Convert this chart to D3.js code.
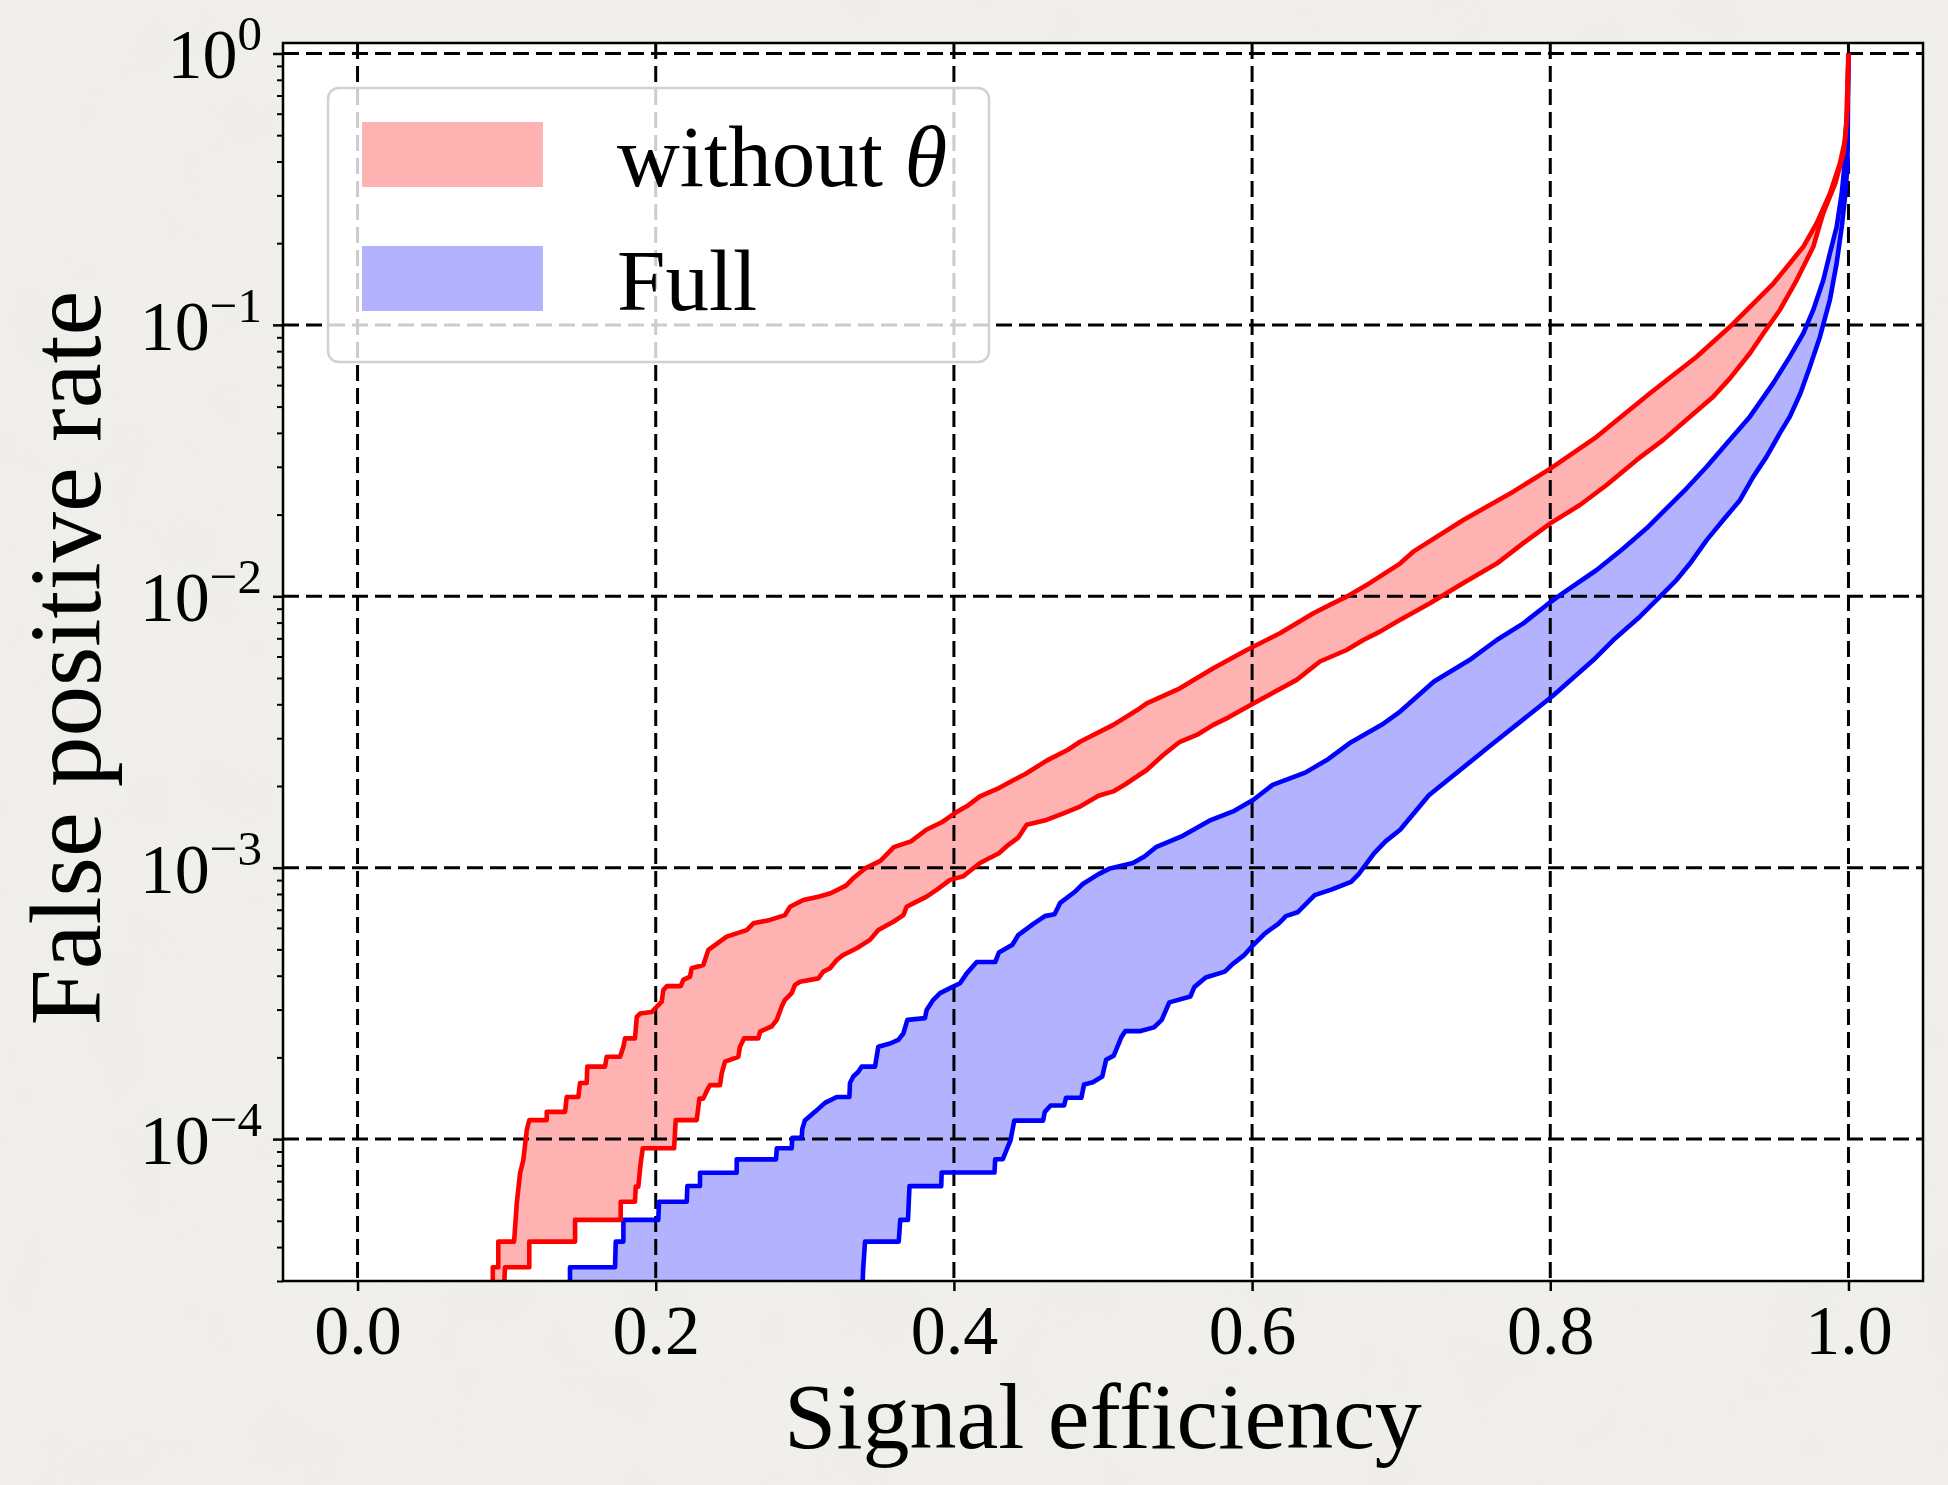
<!DOCTYPE html>
<html>
<head>
<meta charset="utf-8">
<script src="https://cdn.jsdelivr.net/npm/d3@7"></script>
<style>
  body { margin: 0; background: #efeee9; }
  svg { display: block; }
</style>
</head>
<body>
<div class="visualization"></div>
<script>
const canvaswidth = 1948;
const canvasheight = 1485;
const plotleft = 283;
const plotright = 1923;
const plottop = 43;
const plotbottom = 1281;
const serif = "'Liberation Serif', 'DejaVu Serif', serif";

// tick values
var xTicks = [0.0, 0.2, 0.4, 0.6, 0.8, 1.0];
var yTicks = [1e-4, 1e-3, 1e-2, 1e-1, 1e0];

// legend
var legendLabels = ["without ", "Full"];
var legendColors = ["red", "blue"];

// "without theta" band: upper edge (higher false positive rate)
var woThetaHiEff = [0.0907,0.0907,0.0944,0.0944,0.1050,0.1068,0.1090,0.1112,0.1135,0.1152,0.1269,0.1269,0.1392,0.1403,0.1481,0.1492,0.1537,0.1541,0.1660,0.1671,0.1761,0.1783,0.1794,0.1861,0.1873,0.1895,0.1973,0.2040,0.2051,0.2074,0.2168,0.2185,0.2230,0.2241,0.2319,0.2353,0.2476,0.2610,0.2655,0.2767,0.2867,0.2901,0.2990,0.3091,0.3173,0.3276,0.3327,0.3404,0.3507,0.3597,0.3712,0.3815,0.3918,0.4007,0.4097,0.4175,0.4290,0.4398,0.4482,0.4622,0.4765,0.4846,0.4918,0.5069,0.5227,0.5293,0.5516,0.5740,0.5964,0.6187,0.6411,0.6522,0.6634,0.6791,0.6992,0.7081,0.7417,0.7752,0.8003,0.8311,0.8669,0.8982,0.9227,0.9496,0.9697,0.9787,0.9876,0.9943,0.9977,0.9993,1.0];
var woThetaHiFpr = [2.5e-5,3.37e-5,3.37e-5,4.19e-5,4.19e-5,5.80e-5,7.48e-5,8.37e-5,1.08e-4,1.175e-4,1.175e-4,1.26e-4,1.26e-4,1.43e-4,1.43e-4,1.61e-4,1.61e-4,1.85e-4,1.85e-4,2.01e-4,2.01e-4,2.19e-4,2.35e-4,2.35e-4,2.82e-4,2.90e-4,2.94e-4,3.21e-4,3.54e-4,3.66e-4,3.66e-4,3.86e-4,3.97e-4,4.26e-4,4.38e-4,4.98e-4,5.57e-4,5.89e-4,6.24e-4,6.42e-4,6.69e-4,7.18e-4,7.60e-4,7.82e-4,8.05e-4,8.59e-4,9.17e-4,9.94e-4,1.06e-3,1.19e-3,1.25e-3,1.38e-3,1.47e-3,1.59e-3,1.70e-3,1.83e-3,1.95e-3,2.10e-3,2.22e-3,2.48e-3,2.72e-3,2.91e-3,3.05e-3,3.36e-3,3.80e-3,4.03e-3,4.58e-3,5.43e-3,6.34e-3,7.31e-3,8.66e-3,9.3e-3,9.97e-3,1.12e-2,1.32e-2,1.46e-2,1.91e-2,2.43e-2,2.96e-2,3.87e-2,5.60e-2,7.63e-2,0.101,0.142,0.194,0.237,0.305,0.394,0.48,0.62,1.0];

// "without theta" band: lower edge
var woThetaLoEff = [0.0978,0.0989,0.1152,0.1152,0.1459,0.1459,0.1765,0.1765,0.1861,0.1866,0.1883,0.1899,0.1913,0.2123,0.2134,0.2275,0.2293,0.2319,0.2346,0.2364,0.2431,0.2443,0.2465,0.2554,0.2565,0.2592,0.2688,0.2700,0.2778,0.2812,0.2845,0.2867,0.2912,0.2934,0.2968,0.3091,0.3124,0.3169,0.3214,0.3258,0.3348,0.3437,0.3493,0.3594,0.3661,0.3683,0.3750,0.3817,0.3884,0.3974,0.4063,0.4175,0.4302,0.4354,0.4431,0.4488,0.4622,0.4739,0.4846,0.4970,0.5069,0.5150,0.5293,0.5404,0.5516,0.5637,0.5740,0.5843,0.6008,0.6299,0.6455,0.6634,0.6746,0.6858,0.6970,0.7193,0.7417,0.7641,0.7819,0.8003,0.8199,0.8378,0.8580,0.8758,0.8937,0.9093,0.9205,0.9339,0.9429,0.9540,0.9652,0.9764,0.9831,0.9912,0.9968,0.9985,1.0];
var woThetaLoFpr = [2.5e-5,3.37e-5,3.37e-5,4.19e-5,4.19e-5,5.04e-5,5.04e-5,5.88e-5,5.88e-5,6.68e-5,6.68e-5,8.14e-5,9.25e-5,9.25e-5,1.175e-4,1.175e-4,1.41e-4,1.41e-4,1.52e-4,1.58e-4,1.58e-4,1.75e-4,1.93e-4,2.01e-4,2.19e-4,2.35e-4,2.35e-4,2.49e-4,2.60e-4,2.75e-4,3.08e-4,3.26e-4,3.45e-4,3.70e-4,3.80e-4,3.91e-4,4.14e-4,4.26e-4,4.57e-4,4.77e-4,5.05e-4,5.42e-4,5.89e-4,6.32e-4,6.69e-4,7.18e-4,7.50e-4,7.82e-4,8.28e-4,9.02e-4,9.3e-4,1.04e-3,1.13e-3,1.20e-3,1.29e-3,1.44e-3,1.50e-3,1.59e-3,1.68e-3,1.84e-3,1.91e-3,2.03e-3,2.29e-3,2.60e-3,2.91e-3,3.10e-3,3.36e-3,3.58e-3,4.03e-3,4.92e-3,5.75e-3,6.34e-3,6.90e-3,7.41e-3,8.06e-3,9.42e-3,1.12e-2,1.32e-2,1.57e-2,1.86e-2,2.17e-2,2.57e-2,3.18e-2,3.77e-2,4.59e-2,5.44e-2,6.35e-2,7.86e-2,9.30e-2,0.1135,0.146,0.194,0.258,0.333,0.429,0.55,1.0];

// "Full" band: upper edge
var fullHiEff = [0.1425,0.1425,0.1727,0.1732,0.1783,0.1783,0.2017,0.2022,0.2208,0.2212,0.2297,0.2297,0.2543,0.2543,0.2807,0.2812,0.2912,0.2916,0.2979,0.2983,0.3000,0.3068,0.3135,0.3214,0.3299,0.3303,0.3325,0.3359,0.3382,0.3471,0.3493,0.3571,0.3627,0.3661,0.3688,0.3806,0.3817,0.3862,0.3907,0.3974,0.4041,0.4086,0.4153,0.4277,0.4302,0.4392,0.4431,0.4533,0.4610,0.4675,0.4713,0.4816,0.4867,0.4970,0.5047,0.5201,0.5278,0.5355,0.5535,0.5714,0.5881,0.6009,0.6138,0.6356,0.6510,0.6664,0.6869,0.6993,0.7220,0.7458,0.7641,0.7819,0.7976,0.8087,0.8311,0.8490,0.8646,0.8758,0.8915,0.9049,0.9205,0.9339,0.9496,0.9607,0.9697,0.9764,0.9831,0.9876,0.9921,0.9955,0.9977,0.9992,1.0];
var fullHiFpr = [2.5e-5,3.37e-5,3.37e-5,4.19e-5,4.19e-5,5.04e-5,5.04e-5,5.88e-5,5.88e-5,6.72e-5,6.72e-5,7.52e-5,7.52e-5,8.42e-5,8.42e-5,9.25e-5,9.25e-5,1.01e-4,1.01e-4,1.09e-4,1.17e-4,1.26e-4,1.36e-4,1.43e-4,1.43e-4,1.61e-4,1.70e-4,1.77e-4,1.85e-4,1.85e-4,2.19e-4,2.25e-4,2.32e-4,2.45e-4,2.75e-4,2.79e-4,2.99e-4,3.26e-4,3.45e-4,3.60e-4,3.75e-4,4.08e-4,4.49e-4,4.49e-4,4.87e-4,5.20e-4,5.64e-4,6.21e-4,6.63e-4,6.74e-4,7.42e-4,8.19e-4,8.73e-4,9.47e-4,9.94e-4,1.04e-3,1.10e-3,1.19e-3,1.31e-3,1.49e-3,1.62e-3,1.78e-3,2.02e-3,2.24e-3,2.51e-3,2.90e-3,3.36e-3,3.76e-3,4.85e-3,5.82e-3,6.90e-3,7.95e-3,9.29e-3,1.03e-2,1.25e-2,1.50e-2,1.78e-2,2.05e-2,2.50e-2,3.00e-2,3.77e-2,4.59e-2,6.10e-2,7.64e-2,9.30e-2,0.1135,0.146,0.184,0.230,0.305,0.405,0.55,1.0];

// "Full" band: lower edge
var fullLoEff = [0.3382,0.3392,0.3404,0.3630,0.3640,0.3692,0.3702,0.3915,0.3918,0.4272,0.4277,0.4328,0.4354,0.4380,0.4405,0.4598,0.4610,0.4649,0.4739,0.4752,0.4855,0.4873,0.4932,0.4995,0.5021,0.5072,0.5124,0.5150,0.5252,0.5342,0.5394,0.5445,0.5586,0.5612,0.5689,0.5817,0.5869,0.5945,0.6009,0.6087,0.6176,0.6227,0.6305,0.6420,0.6536,0.6664,0.6715,0.6818,0.6895,0.6993,0.7186,0.7603,0.8018,0.8289,0.8423,0.8601,0.8736,0.8848,0.8937,0.9049,0.9160,0.9272,0.9362,0.9451,0.9540,0.9607,0.9678,0.9742,0.9809,0.9876,0.9921,0.9955,0.9977,0.9993,1.0];
var fullLoFpr = [2.5e-5,3.37e-5,4.19e-5,4.19e-5,5.04e-5,5.04e-5,6.71e-5,6.71e-5,7.53e-5,7.53e-5,8.43e-5,8.43e-5,9.14e-5,9.92e-5,1.17e-4,1.17e-4,1.26e-4,1.33e-4,1.33e-4,1.42e-4,1.42e-4,1.59e-4,1.62e-4,1.70e-4,1.96e-4,2.03e-4,2.38e-4,2.50e-4,2.50e-4,2.58e-4,2.75e-4,3.19e-4,3.35e-4,3.63e-4,3.94e-4,4.14e-4,4.41e-4,4.75e-4,5.20e-4,5.73e-4,6.21e-4,6.63e-4,6.85e-4,7.92e-4,8.32e-4,8.87e-4,9.47e-4,1.13e-3,1.25e-3,1.38e-3,1.85e-3,2.83e-3,4.3e-3,5.82e-3,6.90e-3,8.41e-3,9.97e-3,1.15e-2,1.32e-2,1.61e-2,1.91e-2,2.26e-2,2.76e-2,3.27e-2,3.99e-2,4.59e-2,5.60e-2,7.02e-2,9.05e-2,0.124,0.169,0.230,0.297,0.383,1.0];


var svgCanvas = d3.select(".visualization").
append("svg").
attr("width", canvaswidth).
attr("height", canvasheight);

// paper-ish background
var defs = svgCanvas.append("defs");
var noise = defs.append("filter").attr("id", "paper").
attr("x", 0).attr("y", 0).attr("width", "100%").attr("height", "100%");
noise.append("feTurbulence").attr("type", "fractalNoise").
attr("baseFrequency", 0.012).attr("numOctaves", 3).attr("seed", 4);
noise.append("feColorMatrix").attr("type", "matrix").
attr("values", "0 0 0 0 0.55  0 0 0 0 0.55  0 0 0 0 0.52  0 0 0 0.9 -0.35");

svgCanvas.append("rect").
attr("width", canvaswidth).attr("height", canvasheight).
attr("fill", "#f0efeb");
svgCanvas.append("rect").
attr("width", canvaswidth).attr("height", canvasheight).
attr("filter", "url(#paper)").attr("opacity", 0.12);

defs.append("clipPath").attr("id", "plotclip").
append("rect").
attr("x", plotleft).attr("y", plottop).
attr("width", plotright - plotleft).attr("height", plotbottom - plottop);

var xscale = d3.scaleLinear().domain([-0.05, 1.05]).range([plotleft, plotright]);
var yscale = d3.scaleLog().domain([3.0e-5, 1.093]).range([plotbottom, plottop]);

// white axes background
svgCanvas.append("rect").
attr("x", plotleft).attr("y", plottop).
attr("width", plotright - plotleft).attr("height", plotbottom - plottop).
attr("fill", "white");

function pts(effs, fprs) {
  var n = Math.min(effs.length, fprs.length);
  var out = [];
  for (var i = 0; i < n; i++) out.push([effs[i], fprs[i]]);
  return out;
}

var bands = [
  { hi: pts(woThetaHiEff, woThetaHiFpr), lo: pts(woThetaLoEff, woThetaLoFpr), color: legendColors[0] },
  { hi: pts(fullHiEff, fullHiFpr), lo: pts(fullLoEff, fullLoFpr), color: legendColors[1] }];


var line = d3.line().
x(d => xscale(d[0])).
y(d => yscale(d[1]));

var plotg = svgCanvas.append("g").attr("clip-path", "url(#plotclip)");

// fills sit below the grid (drawn blue first, red on top)
var drawOrder = [bands[1], bands[0]];
drawOrder.forEach(function (b) {
  plotg.append("path").
  attr("d", line(b.hi.concat(b.lo.slice().reverse())) + "Z").
  attr("fill", b.color).
  attr("fill-opacity", 0.3).
  attr("stroke", "none");
});

// dashed grid
var gridg = svgCanvas.append("g");
gridg.selectAll("line.vgrid").
data(xTicks).
enter().
append("line").
attr("class", "vgrid").
attr("x1", d => xscale(d)).attr("x2", d => xscale(d)).
attr("y1", plottop).attr("y2", plotbottom).
attr("stroke", "black").attr("stroke-width", 3).
attr("stroke-dasharray", "16,7");

gridg.selectAll("line.hgrid").
data(yTicks).
enter().
append("line").
attr("class", "hgrid").
attr("x1", plotleft).attr("x2", plotright).
attr("y1", d => yscale(d)).attr("y2", d => yscale(d)).
attr("stroke", "black").attr("stroke-width", 3).
attr("stroke-dasharray", "16,7");

// curve edges, drawn over the grid
var curvesg = svgCanvas.append("g").attr("clip-path", "url(#plotclip)");
drawOrder.forEach(function (b) {
  [b.hi, b.lo].forEach(function (p) {
    curvesg.append("path").
    attr("d", line(p)).
    attr("fill", "none").
    attr("stroke", b.color).
    attr("stroke-width", 4.6).
    attr("stroke-linejoin", "round");
  });
});

// spines
svgCanvas.append("rect").
attr("x", plotleft).attr("y", plottop).
attr("width", plotright - plotleft).attr("height", plotbottom - plottop).
attr("fill", "none").attr("stroke", "black").attr("stroke-width", 2.5);

// x axis
var xaxis = d3.axisBottom(xscale).
tickValues(xTicks).
tickSizeInner(10).tickSizeOuter(0).
tickPadding(13).
tickFormat(d3.format(".1f"));

var xg = svgCanvas.append("g").
attr("transform", "translate(0," + plotbottom + ")").
call(xaxis);
xg.select(".domain").remove();
xg.selectAll(".tick line").attr("stroke-width", 2.5);
xg.selectAll(".tick text").
attr("font-family", serif).attr("font-size", 70).attr("fill", "black");

// y axis, major + log minor ticks
var yaxis = d3.axisLeft(yscale).
tickValues(yTicks).
tickSizeInner(10).tickSizeOuter(0).
tickFormat("");
var yg = svgCanvas.append("g").
attr("transform", "translate(" + plotleft + ",0)").
call(yaxis);
yg.select(".domain").remove();
yg.selectAll(".tick line").attr("stroke-width", 2.5);

var yDomain = yscale.domain();
var minorTicks = [];
for (var e = -5; e <= 0; e++) {
  for (var m = 2; m <= 9; m++) {
    var v = m * Math.pow(10, e);
    if (v >= yDomain[0] && v <= yDomain[1]) minorTicks.push(v);
  }
}
var yminor = svgCanvas.append("g").
attr("transform", "translate(" + plotleft + ",0)").
call(d3.axisLeft(yscale).tickValues(minorTicks).tickSizeInner(6).tickSizeOuter(0).tickFormat(""));
yminor.select(".domain").remove();
yminor.selectAll(".tick line").attr("stroke-width", 2);

// y tick labels as 10^n
var ylabels = svgCanvas.append("g");
yTicks.forEach(function (v) {
  var ex = Math.round(Math.log10(v));
  var t = ylabels.append("text").
  attr("x", 262).
  attr("y", yscale(v) + 25).
  attr("text-anchor", "end").
  attr("font-family", serif).
  attr("font-size", 70).
  attr("fill", "black");
  t.append("tspan").text("10");
  t.append("tspan").
  attr("dy", -28).
  attr("font-size", 49).
  text(ex < 0 ? "\u2212" + (-ex) : String(ex));
});

// axis labels
svgCanvas.append("text").
attr("x", (plotleft + plotright) / 2).
attr("y", 1448).
attr("text-anchor", "middle").
attr("font-family", serif).
attr("font-size", 94).
text("Signal efficiency");

svgCanvas.append("text").
attr("transform", "translate(100,658) rotate(-90)").
attr("text-anchor", "middle").
attr("font-family", serif).
attr("font-size", 101).
text("False positive rate");

// legend
var legend = svgCanvas.append("g");
legend.append("rect").
attr("x", 328).attr("y", 88).
attr("width", 661).attr("height", 274).
attr("rx", 11).attr("ry", 11).
attr("fill", "white").attr("fill-opacity", 0.8).
attr("stroke", "#cccccc").attr("stroke-opacity", 0.9).attr("stroke-width", 2.5);

legendLabels.forEach(function (lab, i) {
  var cy = 154 + i * 124;
  legend.append("rect").
  attr("x", 362).attr("y", cy - 32).
  attr("width", 181).attr("height", 65).
  attr("fill", legendColors[i]).attr("fill-opacity", 0.3);
  var t = legend.append("text").
  attr("x", 617).attr("y", cy + 32).
  attr("font-family", serif).
  attr("font-size", 87).
  attr("fill", "black");
  t.append("tspan").text(lab);
  if (i === 0) t.append("tspan").attr("font-style", "italic").text("\u03B8");
});
</script>
</body>
</html>
